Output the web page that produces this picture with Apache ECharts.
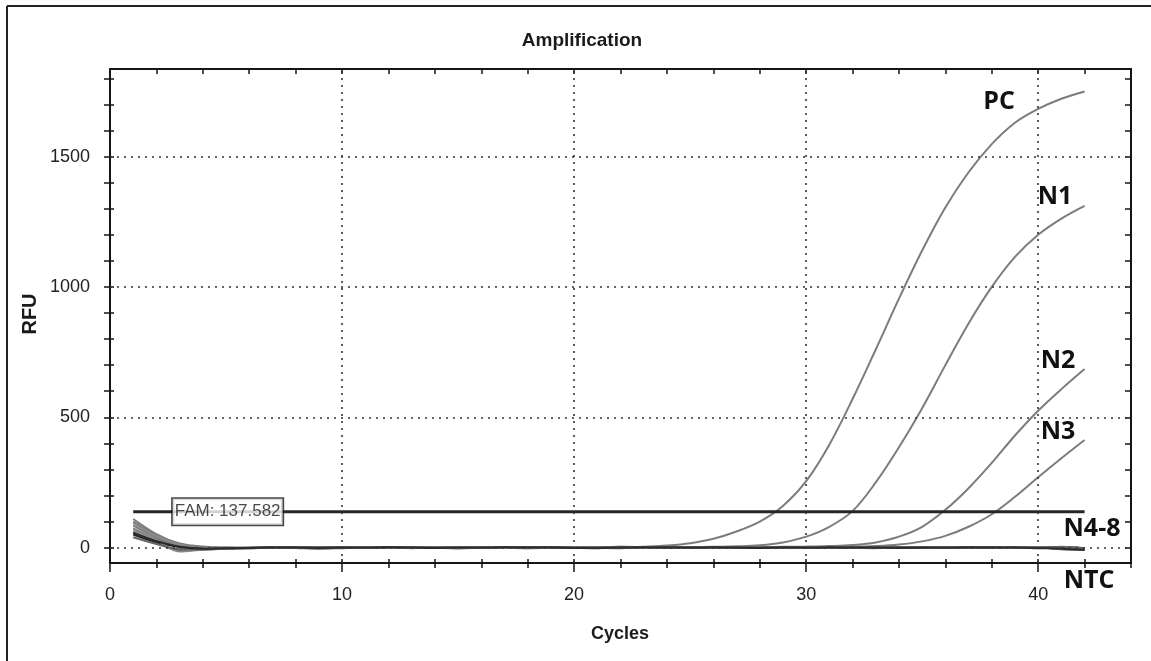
<!DOCTYPE html>
<html>
<head>
<meta charset="utf-8">
<script src="https://cdn.jsdelivr.net/npm/echarts@6/dist/echarts.min.js"></script>
<style>html,body{margin:0;padding:0;background:#fff}#c{width:1151px;height:661px}</style>
</head>
<body>
<div id="c"></div>
<script>
const cycles = [1,2,3,4,5,6,7,8,9,10,11,12,13,14,15,16,17,18,19,20,21,22,23,24,25,26,27,28,29,30,31,32,33,34,35,36,37,38,39,40,41,42];
const PC  = [100,48,16,4,1,0,-1,0,1,0,-1,0,0,1,0,-1,0,0,1,0,1,2,3,8,17,34,62,100,160,255,395,570,760,955,1140,1305,1440,1548,1630,1683,1722,1750];
const N1  = [110,52,14,-2,-3,-1,0,1,0,-1,0,0,1,0,-1,0,0,1,0,0,-1,0,1,0,1,3,5,9,20,42,80,140,250,385,535,700,860,1000,1115,1200,1262,1311];
const N2  = [85,38,6,-4,-2,-1,0,1,0,0,-1,0,1,0,0,-1,0,0,1,0,0,1,0,0,1,1,2,2,3,4,6,10,20,42,80,145,228,325,430,525,608,685];
const N3  = [70,32,8,-3,-2,-1,0,0,1,0,-1,0,0,1,0,-1,0,0,1,0,0,-1,0,1,0,0,1,0,1,1,2,3,6,12,24,45,80,128,195,270,343,413];
const N4  = [95,44,12,-3,-2,0,1,0,-1,0,1,0,-2,0,1,0,0,-1,0,1,0,0,-1,0,1,0,0,-1,0,1,0,0,-2,0,1,0,0,-1,0,1,-3,-5];
const N5  = [60,22,-12,-6,-3,-1,0,-1,-4,-2,0,1,0,-1,-3,-1,0,0,1,0,-1,-2,0,1,0,-1,0,0,1,0,-1,0,0,1,0,-1,0,0,-1,0,-6,-8];
const N6  = [50,20,2,-5,-4,-2,0,0,1,0,-1,0,1,0,0,-1,0,1,0,0,1,3,2,0,-1,0,1,0,0,-1,0,1,0,0,-1,0,0,1,0,0,2,-2];
const N7  = [75,30,-15,-8,-4,-2,-1,0,0,1,0,-1,0,0,1,0,-1,-3,-1,0,0,1,0,-1,0,0,1,0,-1,0,0,1,0,-1,0,0,1,0,-1,0,-4,-7];
const N8  = [40,14,-6,-7,-3,-1,0,1,0,0,-1,0,1,0,-1,0,0,1,0,-1,0,0,1,0,0,-1,0,1,0,0,-1,0,1,0,0,-1,0,1,0,-1,3,-3];
const NTC = [55,25,3,-4,-2,-1,0,0,-1,0,0,1,0,-1,0,0,1,0,0,-1,-2,0,1,0,0,1,0,-1,0,0,1,0,0,-1,0,0,1,0,0,-2,-4,-9];
const threshold = 137.582;
const thresholdRange = [1, 42];
const xLabels = [0,10,20,30,40];
const xMinorTicks = [0,2,4,6,8,10,12,14,16,18,20,22,24,26,28,30,32,34,36,38,40,42,44];
const yLabels = [0,500,1000,1500];
const yMinorTicks = [0,100,200,300,400,500,600,700,800,900,1000,1100,1200,1300,1400,1500,1600,1700,1800];
const xGrid = [10,20,30,40];
const yGrid = [0,500,1000,1500];

const FONT = "'Liberation Sans', Arial, sans-serif";
const AX = '#151515';
const chart = echarts.init(document.getElementById('c'), null, {renderer:'canvas'});

function pairs(arr){ return cycles.map((c,i)=>[c, arr[i]]); }
const curves = [
  {name:'PC', d:PC, c:'#7c7c7c'},
  {name:'N1', d:N1, c:'#7c7c7c'},
  {name:'N2', d:N2, c:'#7c7c7c'},
  {name:'N3', d:N3, c:'#7c7c7c'},
  {name:'N4', d:N4, c:'#8a8a8a'},
  {name:'N5', d:N5, c:'#555'},
  {name:'N6', d:N6, c:'#2a2a2a'},
  {name:'N7', d:N7, c:'#8a8a8a'},
  {name:'N8', d:N8, c:'#666'},
  {name:'NTC', d:NTC, c:'#2a2a2a'}
];

const xBase = {type:'value', min:0, max:44, gridIndex:0, splitLine:{show:false}};
const yBase = {type:'value', min:-59, max:1836, gridIndex:0, splitLine:{show:false}};
const tickStyle = {color:AX, width:1.5};
const plain = v => String(v);

const series = [
  {
    type:'line', name:'grid', data:[], silent:true, z:1, xAxisIndex:0, yAxisIndex:0,
    markLine:{
      silent:true, symbol:['none','none'], label:{show:false}, animation:false,
      lineStyle:{type:[2,5], color:'#333', width:1.6},
      emphasis:{disabled:true},
      data: xGrid.map(v=>({xAxis:v})).concat(yGrid.map(v=>({yAxis:v})))
    }
  }
];
curves.forEach((s,i)=>{
  series.push({
    type:'line', name:s.name, data:pairs(s.d), xAxisIndex:0, yAxisIndex:0,
    symbol:'none', smooth:0.35, z:2+i*0.01,
    lineStyle:{color:s.c, width:2}, silent:true
  });
});
series.push({
  type:'line', name:'threshold', xAxisIndex:0, yAxisIndex:0,
  data: thresholdRange.map(x=>[x, threshold]),
  symbol:'none', z:4, silent:true,
  lineStyle:{color:'#262626', width:3}
});
series.push({
  type:'scatter', name:'thrLabel', xAxisIndex:0, yAxisIndex:0,
  data:[[5.07, threshold]], symbolSize:0, z:6, silent:true,
  label:{show:true, position:'inside', formatter:'FAM: ' + threshold,
    fontFamily:FONT, fontSize:17, color:'#1a1a1a',
    backgroundColor:'#fff', borderColor:'#1a1a1a', borderWidth:1.6, padding:[5,2,4,2]}
});

const labelFont = "'Open Sans', 'Noto Sans', sans-serif";
function lbl(t, x, y){ return {type:'text', x:x, y:y, z:100, style:{text:t, fontFamily:labelFont, fontWeight:'bold', fontSize:25, fill:'#111', align:'center', verticalAlign:'middle'}}; }

chart.setOption({
  animation:false,
  backgroundColor:'#fff',
  grid:{left:110, right:20, top:69, bottom:98, containLabel:false},
  xAxis:[
    Object.assign({}, xBase, {position:'bottom',
      axisLine:{show:true, onZero:false, lineStyle:{color:AX, width:2}},
      axisTick:{show:true, customValues:xLabels, length:9, lineStyle:tickStyle},
      axisLabel:{show:true, customValues:xLabels, formatter:plain, fontFamily:FONT, fontSize:18, color:'#222', margin:23}}),
    Object.assign({}, xBase, {position:'bottom',
      axisLine:{show:false, onZero:false},
      axisTick:{show:true, customValues:xMinorTicks, length:5, lineStyle:tickStyle},
      axisLabel:{show:false}}),
    Object.assign({}, xBase, {position:'bottom',
      axisLine:{show:false, onZero:false},
      axisTick:{show:true, inside:true, customValues:xMinorTicks, length:4, lineStyle:tickStyle},
      axisLabel:{show:false}}),
    Object.assign({}, xBase, {position:'top',
      axisLine:{show:true, onZero:false, lineStyle:{color:AX, width:2}},
      axisTick:{show:true, inside:true, customValues:xMinorTicks, length:5, lineStyle:tickStyle},
      axisLabel:{show:false}})
  ],
  yAxis:[
    Object.assign({}, yBase, {position:'left',
      axisLine:{show:true, onZero:false, lineStyle:{color:AX, width:2}},
      axisTick:{show:true, customValues:yMinorTicks, length:6, lineStyle:tickStyle},
      axisLabel:{show:true, customValues:yLabels, formatter:plain, fontFamily:FONT, fontSize:18, color:'#222', margin:20}}),
    Object.assign({}, yBase, {position:'left',
      axisLine:{show:false, onZero:false},
      axisTick:{show:true, inside:true, customValues:yMinorTicks, length:4, lineStyle:tickStyle},
      axisLabel:{show:false}}),
    Object.assign({}, yBase, {position:'right',
      axisLine:{show:true, onZero:false, lineStyle:{color:AX, width:2}},
      axisTick:{show:true, inside:true, customValues:yMinorTicks, length:6, lineStyle:tickStyle},
      axisLabel:{show:false}})
  ],
  series: series,
  graphic:[
    {type:'line', z:100, shape:{x1:7, y1:6, x2:1151, y2:6}, style:{stroke:'#222', lineWidth:2}},
    {type:'line', z:100, shape:{x1:7, y1:6, x2:7, y2:661}, style:{stroke:'#222', lineWidth:2}},
    {type:'text', x:582, y:41, z:100, style:{text:'Amplification', fontFamily:FONT, fontWeight:'bold', fontSize:19, fill:'#1a1a1a', align:'center', verticalAlign:'middle'}},
    {type:'text', x:620, y:634, z:100, style:{text:'Cycles', fontFamily:FONT, fontWeight:'bold', fontSize:18, fill:'#1a1a1a', align:'center', verticalAlign:'middle'}},
    {type:'text', x:30, y:314, z:100, rotation:Math.PI/2, style:{text:'RFU', fontFamily:FONT, fontWeight:'bold', fontSize:20, fill:'#1a1a1a', align:'center', verticalAlign:'middle'}},
    lbl('PC', 999, 102),
    lbl('N1', 1055, 197),
    lbl('N2', 1058, 361),
    lbl('N3', 1058, 432),
    lbl('N4-8', 1092, 529),
    lbl('NTC', 1089, 581)
  ]
});
</script>
</body>
</html>
